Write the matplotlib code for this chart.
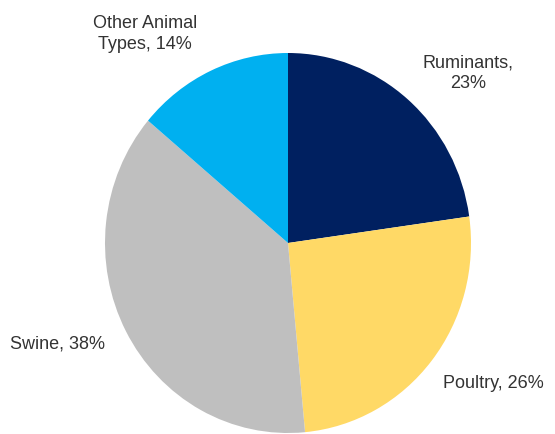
import matplotlib.pyplot as plt

# share of emissions by animal type
categories = ["Ruminants", "Poultry", "Swine", "Other Animal\nTypes"]
shares = [23, 26, 38, 14]
colors = ["#002060", "#FFD966", "#BFBFBF", "#00B0F0"]

plt.rcParams["font.family"] = ["Liberation Sans Narrow", "Liberation Sans", "DejaVu Sans"]

W, H = 555, 434
fig = plt.figure(figsize=(W / 100, H / 100), dpi=100)

# pie centre (288, 243) px, slightly taller than wide
cx, cy, rx, ry = 288, 243, 183, 190
ax = fig.add_axes([(cx - rx) / W, (H - cy - ry) / H, 2 * rx / W, 2 * ry / H])
ax.pie(shares, colors=colors, startangle=90, counterclock=False,
       wedgeprops=dict(linewidth=0))
ax.set_aspect("auto")
ax.set_xlim(-1, 1)
ax.set_ylim(-1, 1)
ax.axis("off")

# label anchors in pixel coordinates
label_pos = [(468, 73), (493, 383), (58, 344), (145, 34)]
sep = [",\n", ", ", ", ", ", "]
for name, val, (x, y), s in zip(categories, shares, label_pos, sep):
    fig.text(x / W, 1 - y / H, f"{name}{s}{val}%", ha="center", va="center",
             fontsize=13, color="#333333", linespacing=1.25)

fig.savefig("out.png", dpi=100)
